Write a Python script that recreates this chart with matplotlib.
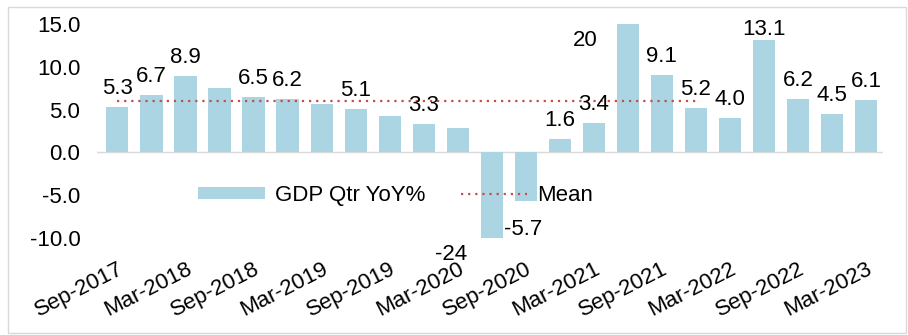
import numpy as np
import matplotlib.pyplot as plt
from matplotlib.patches import Rectangle

plt.rcParams['font.family'] = ['Liberation Sans', 'DejaVu Sans']

# quarterly GDP growth, Sep-2017 .. Mar-2023
quarters = ['Sep-2017', 'Dec-2017', 'Mar-2018', 'Jun-2018', 'Sep-2018', 'Dec-2018',
            'Mar-2019', 'Jun-2019', 'Sep-2019', 'Dec-2019', 'Mar-2020', 'Jun-2020',
            'Sep-2020', 'Dec-2020', 'Mar-2021', 'Jun-2021', 'Sep-2021', 'Dec-2021',
            'Mar-2022', 'Jun-2022', 'Sep-2022', 'Dec-2022', 'Mar-2023']
gdp_yoy = [5.3, 6.7, 8.9, 7.5, 6.5, 6.2, 5.6, 5.1, 4.3, 3.3, 2.9, -24, -5.7,
           1.6, 3.4, 20, 9.1, 5.2, 4.0, 13.1, 6.2, 4.5, 6.1]
labelled = [0, 1, 2, 4, 5, 7, 9, 11, 12, 13, 14, 15, 16, 17, 18, 19, 20, 21, 22]
mean_value = 6.0
mean_quarters = quarters[:18]

bar_color = '#abd5e2'
mean_color = '#c0504d'
fs = 16

fig = plt.figure(figsize=(9.08, 3.35), dpi=100)
ax = fig.add_axes([97/908, 1-238/335, 786/908, 214/335])

x = np.arange(len(quarters))
bars = ax.bar(x, gdp_yoy, width=0.65, color=bar_color, label='GDP Qtr YoY%', zorder=2)
xm = np.arange(len(mean_quarters))
mline, = ax.plot(xm, [mean_value]*len(xm), ls=(0, (1, 2.2)), color=mean_color, lw=1.6,
                 label='Mean', zorder=3)
ax.axhline(0, color='#d9d9d9', lw=1, zorder=1)

ax.set_xlim(-0.6, 22.5)
ax.set_ylim(-10, 15)
ax.set_yticks(np.arange(-10, 16, 5))
ax.set_yticklabels([f'{v:.1f}' for v in np.arange(-10, 16, 5)], fontsize=fs)
ax.set_xticks(x[::2])
ax.set_xticklabels(quarters[::2], fontsize=fs, rotation=27, ha='right',
                   rotation_mode='anchor')
ax.tick_params(length=0, axis='both')
ax.tick_params(axis='x', pad=15)
ax.tick_params(axis='y', pad=12)
for s in ax.spines.values():
    s.set_visible(False)

# data labels, the clipped bars get theirs beside the bar
for i in labelled:
    v = gdp_yoy[i]
    txt = f'{v:.0f}' if abs(v) >= 20 else f'{v:.1f}'
    if i == 11:
        ax.annotate(txt, (i, -10), xytext=(-41, -22), textcoords='offset pixels',
                    ha='center', va='baseline', fontsize=fs, annotation_clip=False)
    elif i == 15:
        ax.annotate(txt, (i, 15), xytext=(-43, -22), textcoords='offset pixels',
                    ha='center', va='baseline', fontsize=fs, annotation_clip=False)
    elif v < 0:
        ax.annotate(txt, (i, v), xytext=(-3, -28), textcoords='offset pixels',
                    ha='center', va='center', fontsize=fs)
    else:
        dy = 5 if i == 19 else 13
        ax.annotate(txt, (i, v), xytext=(0, dy), textcoords='offset pixels',
                    ha='center', va='baseline', fontsize=fs, annotation_clip=False)

ax.legend(handles=[bars, mline], loc='center left', bbox_to_anchor=(0.1285, 0.20),
          ncol=2, frameon=False, fontsize=fs, handlelength=3.0, handleheight=0.45,
          columnspacing=1.6, borderaxespad=0, borderpad=0, handletextpad=0.45)

fig.patches.append(Rectangle((8/908, 2/335), 898/908, 326/335, transform=fig.transFigure,
                             fill=False, edgecolor='#d9d9d9', lw=1))
fig.savefig('out.png', dpi=100)
